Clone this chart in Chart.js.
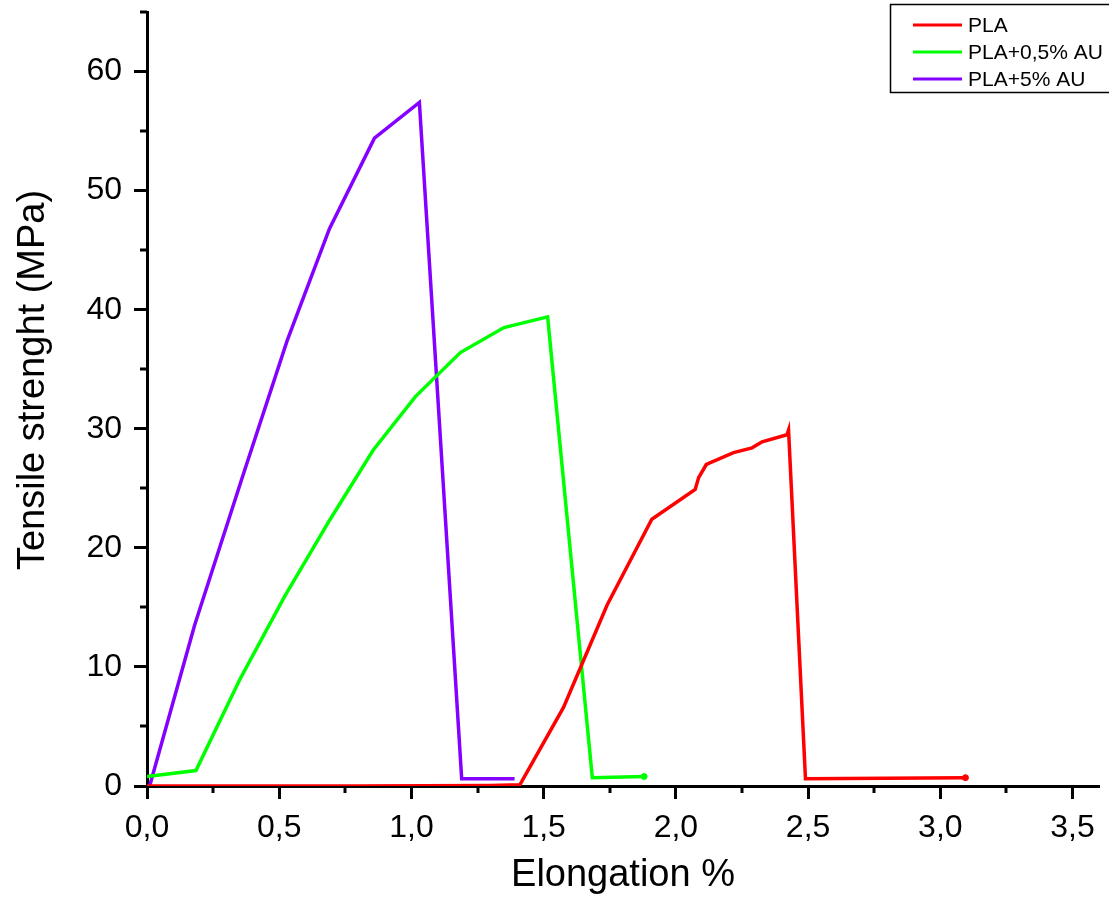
<!DOCTYPE html>
<html>
<head>
<meta charset="utf-8">
<script src="https://cdn.jsdelivr.net/npm/chart.js@4"></script>
<style>
  body { margin: 0; background: #fff; }
</style>
</head>
<body>
<canvas id="myChart" width="1109" height="904"></canvas>
<script>
const seriesLabels = ["PLA", "PLA+0,5% AU", "PLA+5% AU"];
const seriesColors = ["rgb(255, 0, 0)", "rgb(0, 255, 0)", "rgb(132, 0, 255)"];

// elongation (%) and tensile strength (MPa)
const plaX = [0.0, 0.8, 1.3, 1.41, 1.575, 1.74, 1.909, 2.073, 2.086, 2.115, 2.218, 2.288, 2.326, 2.42, 2.426, 2.49, 3.095];
const plaY = [0.0, 0.0, 0.05, 0.1, 6.6, 15.2, 22.4, 24.9, 25.9, 27.0, 28.0, 28.4, 28.9, 29.5, 29.9, 0.6, 0.7];

const pla05X = [0.0, 0.185, 0.35, 0.52, 0.69, 0.855, 1.015, 1.185, 1.35, 1.515, 1.684, 1.88];
const pla05Y = [0.8, 1.3, 8.9, 15.9, 22.3, 28.2, 32.7, 36.4, 38.5, 39.4, 0.7, 0.8];

const pla5X = [0.01, 0.18, 0.363, 0.53, 0.69, 0.86, 1.03, 1.19, 1.39];
const pla5Y = [0.0, 13.5, 26.1, 37.4, 46.8, 54.4, 57.4, 0.6, 0.6];

const xTicks = [0, 0.5, 1, 1.5, 2, 2.5, 3, 3.5];
const yTicks = [0, 10, 20, 30, 40, 50, 60];

function toPoints(xs, ys) {
  return xs.map((x, i) => ({ x: x, y: ys[i] }));
}
function endDot(xs, r) {
  return xs.map((x, i) => (i === xs.length - 1 ? r : 0));
}

const data = {
  datasets: [
    {
      label: seriesLabels[0],
      data: toPoints(plaX, plaY),
      borderColor: seriesColors[0],
      backgroundColor: seriesColors[0],
      pointRadius: endDot(plaX, 3),
    },
    {
      label: seriesLabels[1],
      data: toPoints(pla05X, pla05Y),
      borderColor: seriesColors[1],
      backgroundColor: seriesColors[1],
      pointRadius: endDot(pla05X, 3),
    },
    {
      label: seriesLabels[2],
      data: toPoints(pla5X, pla5Y),
      borderColor: seriesColors[2],
      backgroundColor: seriesColors[2],
      pointRadius: endDot(pla5X, 0),
    },
  ],
};

const fmt = (v) => v.toFixed(1).replace(".", ",");

// minor ticks, y title and boxed legend
const extras = {
  id: "extras",
  afterDraw(chart) {
    const ctx = chart.ctx;
    const xs = chart.scales.x;
    const ys = chart.scales.y;
    ctx.save();
    ctx.strokeStyle = "#000";
    ctx.lineWidth = 3;
    for (let v = 0.25; v < xs.max; v += 0.5) {
      const px = Math.round(xs.getPixelForValue(v));
      ctx.beginPath();
      ctx.moveTo(px, ys.bottom);
      ctx.lineTo(px, ys.bottom + 7);
      ctx.stroke();
    }
    for (let v = 5; v <= ys.max; v += 10) {
      const py = Math.round(ys.getPixelForValue(v));
      ctx.beginPath();
      ctx.moveTo(xs.left, py);
      ctx.lineTo(xs.left - 7, py);
      ctx.stroke();
    }
    // y axis title
    ctx.fillStyle = "#000";
    ctx.font = "38px 'Liberation Sans', Arial, sans-serif";
    ctx.textAlign = "center";
    ctx.textBaseline = "middle";
    ctx.translate(34, 380);
    ctx.rotate(-Math.PI / 2);
    ctx.fillText("Tensile strenght (MPa)", 0, 0);
    ctx.restore();

    // legend
    ctx.save();
    ctx.strokeStyle = "#000";
    ctx.lineWidth = 1.5;
    ctx.strokeRect(890.5, 4.5, 230, 88);
    ctx.font = "21px 'Liberation Sans', Arial, sans-serif";
    ctx.textBaseline = "middle";
    ctx.fillStyle = "#000";
    chart.data.datasets.forEach((ds, i) => {
      const y = 25 + i * 27;
      ctx.strokeStyle = ds.borderColor;
      ctx.lineWidth = 3;
      ctx.beginPath();
      ctx.moveTo(913, y);
      ctx.lineTo(962, y);
      ctx.stroke();
      ctx.fillText(ds.label, 968, y + 1);
    });
    ctx.restore();
  },
};

const config = {
  type: "line",
  data: data,
  options: {
    responsive: false,
    animation: false,
    showLine: true,
    elements: { line: { borderWidth: 3.5, tension: 0 } },
    layout: { padding: { left: 0, top: 12, right: 10, bottom: 0 } },
    plugins: { legend: { display: false }, tooltip: { enabled: false } },
    scales: {
      x: {
        type: "linear",
        min: 0,
        max: 3.6,
        afterFit: (s) => { s.height = 118; s.paddingLeft = 0; s.paddingRight = 0; },
        afterBuildTicks: (s) => { s.ticks = xTicks.map((v) => ({ value: v })); },
        border: { color: "#000", width: 3 },
        grid: { drawOnChartArea: false, tickLength: 13, tickWidth: 3, tickColor: "#000" },
        ticks: {
          color: "#000",
          padding: 10,
          maxRotation: 0,
          font: { family: "'Liberation Sans', Arial", size: 32 },
          callback: (v) => fmt(v),
        },
        title: {
          display: true,
          text: "Elongation %",
          color: "#000",
          font: { family: "'Liberation Sans', Arial", size: 38 },
          padding: { top: 0, bottom: 6 },
        },
      },
      y: {
        type: "linear",
        min: 0,
        max: 65,
        afterFit: (s) => { s.width = 147; s.paddingTop = 0; s.paddingBottom = 0; },
        afterBuildTicks: (s) => { s.ticks = yTicks.map((v) => ({ value: v })); },
        border: { color: "#000", width: 3 },
        grid: { drawOnChartArea: false, tickLength: 13, tickWidth: 3, tickColor: "#000" },
        ticks: {
          color: "#000",
          padding: 12,
          font: { family: "'Liberation Sans', Arial", size: 32 },
        },
      },
    },
  },
  plugins: [extras],
};
let myChart = new Chart(document.getElementById("myChart"), config);
</script>
</body>
</html>
